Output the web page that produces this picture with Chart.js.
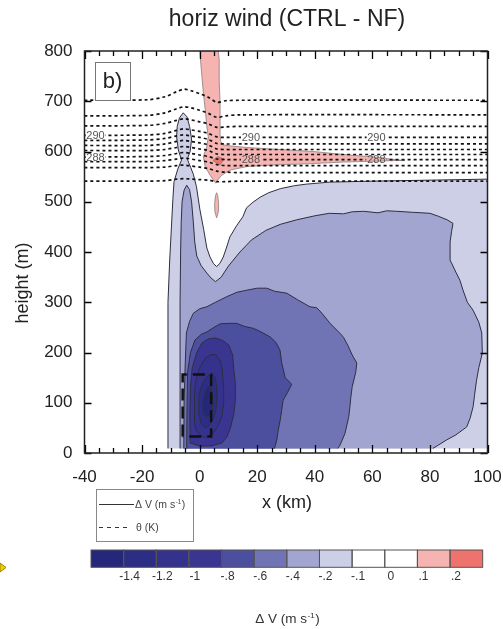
<!DOCTYPE html>
<html>
<head>
<meta charset="utf-8">
<script src="https://cdn.jsdelivr.net/npm/chart.js@4.4.0/dist/chart.umd.min.js"></script>
<style>
  html, body { margin: 0; padding: 0; background: #fff; }
  canvas { display: block; }
</style>
</head>
<body>
<canvas id="windChart" width="503" height="629"></canvas>
<script>
// Filled contours of delta V, outlines as [x km, height m]
const polyM01 = [[-11, 9], [-11, 300], [-10.4, 384], [-9.8, 450], [-9.3, 505], [-8.9, 540], [-7.6, 565], [-6.3, 583], [-7.4, 603], [-8, 629], [-7.8, 650], [-7, 667], [-5.7, 677], [-4.4, 669], [-3.5, 650], [-2.8, 625], [-3.3, 600], [-4.3, 585], [-3.1, 568], [-2.2, 555], [-1.1, 530], [0.1, 484], [1.4, 445], [2.5, 408], [3.6, 390], [4.8, 377], [5.9, 371], [7.0, 377], [8.2, 390], [9.4, 410], [10.5, 430], [12.8, 452], [15, 470], [16.3, 488], [18.5, 499], [21, 509], [24, 518], [28, 526], [33, 532], [37, 535], [45, 539], [60, 541], [80, 543], [100, 545], [100, 9]];
const polyM02 = [[-6.8, 9], [-6.8, 300], [-6.6, 404], [-6.4, 460], [-6.1, 500], [-5.4, 523], [-4.5, 533], [-3.5, 524], [-2.8, 500], [-2.2, 460], [-1.7, 420], [-1.0, 392], [0.5, 373], [2.5, 358], [4.0, 348], [5.5, 341], [7.5, 350], [10, 372], [14, 400], [18, 424], [23, 443], [28, 455], [33.7, 464], [40, 472], [45, 477], [50, 476], [53, 480], [57, 481], [62, 478], [65, 482], [68.5, 481], [74, 479], [80, 477], [83, 471], [86, 464], [88, 457], [87.5, 440], [87, 420], [87, 384], [89, 360], [90.4, 344], [91.5, 324], [93, 300], [95, 284], [97, 260], [98, 239], [98.2, 199], [97, 170], [96.2, 145], [95.5, 115], [95, 92], [94, 70], [92.8, 52], [89, 36], [85.8, 26], [83, 16], [81, 9]];
const polyM04 = [[-5.5, 9], [-5.4, 100], [-5.0, 180], [-4.6, 239], [-3.5, 262], [-2.2, 278], [0, 287], [2.5, 291], [5.5, 300], [9.4, 311], [13, 320], [16.4, 324], [20, 328], [23.3, 328], [26, 322], [30.3, 318], [34, 305], [38.3, 291], [40.7, 289], [42.5, 278], [45.3, 258], [48.8, 238], [50, 230], [51.5, 214], [53, 195], [54.6, 179], [54.2, 160], [53, 132], [52.5, 110], [52.2, 92], [51.8, 72], [50.5, 39], [48.8, 16], [48, 9]];
const polyM06 = [[-4.5, 9], [-4.4, 80], [-4.2, 160], [-3.2, 200], [-1.6, 225], [0.5, 236], [2.5, 241], [5, 250], [7.1, 257], [10, 258], [12.9, 258], [15.5, 252], [18.7, 248], [21, 242], [24.5, 231], [26.5, 220], [27.9, 205], [28.5, 180], [29.7, 150], [32, 137], [30.5, 120], [29, 105], [28.5, 85], [28, 66], [27.3, 45], [26.8, 26], [26, 9]];
const polyM08 = [[-3.3, 20], [-3.4, 80], [-3.2, 130], [-2.6, 169], [-1, 200], [0.8, 219], [3, 227], [5.5, 229], [8, 224], [10.1, 215], [11.5, 195], [11.8, 169], [12.4, 140], [12.4, 103], [11.8, 75], [10.7, 50], [9.5, 32], [7.8, 20], [4, 14], [0, 14]];
const polyM10 = [[-1.8, 60], [-1.8, 110], [-1.5, 140], [0, 170], [2, 189], [4, 196], [5.5, 196], [7, 185], [7.8, 169], [8.3, 135], [8.4, 103], [7.8, 75], [6.6, 56], [4.5, 38], [2, 30], [0, 36], [-1.2, 45]];
const polyM12 = [[-0.3, 80], [-0.2, 116], [1, 140], [3.2, 156], [4.6, 155], [5.5, 149], [6, 125], [6, 103], [5.6, 85], [4.9, 70], [3.5, 56], [2, 50], [0.5, 58]];
const polyM14 = [[1.2, 85], [1.2, 105], [2.2, 125], [3.2, 132], [4.2, 126], [4.6, 110], [4.5, 90], [3.8, 76], [2.5, 72], [1.6, 77]];
const polyM16 = [[2.6, 112], [2.7, 127], [3.1, 133], [3.6, 128], [3.6, 114], [3.1, 109]];
const polyP01 = [[0.1, 800], [0.3, 782], [1.3, 716], [2.0, 680], [2.5, 649], [3.0, 629], [2.5, 610], [1.3, 590], [1.9, 570], [3.6, 553], [4.6, 545], [5.6, 537], [6.5, 545], [7.7, 553], [10.6, 563], [16.4, 570], [25, 573], [39.4, 576], [50, 579], [62.7, 581], [68, 582], [71.3, 582], [66, 585], [62.7, 588], [50, 594], [39.5, 600], [25, 605], [16.4, 608], [11, 611], [8.2, 613], [7.3, 620], [7.1, 629], [7.1, 660], [7.1, 696], [6.8, 740], [6.8, 782], [6.5, 800]];
const polyP02 = [[4.6, 582], [6.2, 590], [8.6, 585], [7.0, 573]];
const polyP01b = [[5.9, 468], [5.3, 480], [5.2, 495], [5.5, 512], [5.9, 518], [6.3, 512], [6.6, 495], [6.5, 480]];

// colorbar
const barColors = ['#25277a', '#2c2e85', '#34328c', '#3b3592', '#4c4e9e', '#7174b4', '#a3a5d1', '#cdcfe7', '#ffffff', '#ffffff', '#f5b4b2', '#ee726d'];
const barLabels = ['-1.4', '-1.2', '-1', '-.8', '-.6', '-.4', '-.2', '-.1', '0', '.1', '.2'];

// [polygon, colour box index, closed outline]
const regions = [
  [polyM01, 7, false], [polyM02, 6, false], [polyM04, 5, false], [polyM06, 4, false],
  [polyM08, 3, true], [polyM10, 2, true], [polyM12, 1, true], [polyM14, 0, true], [polyM16, 0, true],
  [polyP01, 10, true], [polyP02, 11, true], [polyP01b, 10, true]
];

// potential temperature isolines (dashed)
const thetaX = [-40, -18, -12, -8, -5.5, -3, 0, 3, 6, 9, 14, 100];
const thetaY = [
  [702, 703, 709, 719, 724, 721, 715, 708, 698, 701, 702, 702],
  [671, 672, 677, 685, 689, 687, 682, 676, 668, 671, 673, 673],
  [651, 652, 656, 662, 665, 663, 659, 655, 648, 649, 650, 650],
  [632, 633, 636, 642, 645, 643, 640, 636, 629, 628, 628, 628],
  [622, 623, 626, 631, 633, 631, 628, 624, 616, 615, 615, 615],
  [612, 612, 615, 620, 622, 620, 617, 613, 605, 604, 604, 604],
  [602, 602, 604, 608, 610, 608, 605, 602, 595, 594, 594, 594],
  [589, 590, 592, 596, 598, 596, 593, 590, 585, 584, 584, 584],
  [580, 580, 582, 585, 587, 585, 582, 579, 574, 572, 572, 572],
  [568, 568, 569, 572, 573, 571, 569, 566, 561, 559, 558, 558],
  [541, 541, 542, 545, 546, 545, 544, 543, 540, 540, 541, 541]
];
const thetaLabels = [
  { text: '290', pts: [[-36.2, 632], [17.8, 628], [61.4, 628]] },
  { text: '288', pts: [[-36.2, 589], [17.8, 584], [61.4, 584]] }
];

// dashed box near the origin
const boxX = [-5.9, -5.9, 4.0, 4.0, -5.9];
const boxY = [33, 156, 156, 33, 33];

const FONT = '"Liberation Sans", Arial, Helvetica, sans-serif';

function tracePoly(ctx, sx, sy, pts, close) {
  ctx.beginPath();
  pts.forEach(([vx, vy], i) => {
    const px = sx.getPixelForValue(vx), py = sy.getPixelForValue(vy);
    if (i === 0) ctx.moveTo(px, py); else ctx.lineTo(px, py);
  });
  if (close) ctx.closePath();
}

function drawFills(ctx, sx, sy) {
  regions.forEach(([pts, ci, closed]) => {
    ctx.fillStyle = barColors[ci];
    tracePoly(ctx, sx, sy, pts, true);
    ctx.fill();
    ctx.strokeStyle = ci >= 10 ? '#8a7c7c' : '#2e2e40';
    ctx.lineWidth = ci >= 10 ? 0.8 : 1;
    tracePoly(ctx, sx, sy, pts, closed);
    ctx.stroke();
  });
}

// "Δ V (m s-1)" with the exponent raised
function drawUnit(ctx, x, base, size, align) {
  const main = 'Δ V (m s', sup = '-1', tail = ')';
  ctx.font = size + 'px ' + FONT;
  const w1 = ctx.measureText(main).width, w3 = ctx.measureText(tail).width;
  ctx.font = (size * 0.6) + 'px ' + FONT;
  const w2 = ctx.measureText(sup).width;
  let left = align === 'center' ? x - (w1 + w2 + w3) / 2 : x;
  ctx.textAlign = 'left';
  ctx.textBaseline = 'alphabetic';
  ctx.font = size + 'px ' + FONT;
  ctx.fillText(main, left, base);
  ctx.font = (size * 0.6) + 'px ' + FONT;
  ctx.fillText(sup, left + w1 + 0.5, base - size * 0.4);
  ctx.font = size + 'px ' + FONT;
  ctx.fillText(tail, left + w1 + w2 + 1, base);
}

const contourPlugin = {
  id: 'contours',
  beforeDatasetsDraw(chart) {
    const { ctx, chartArea: a, scales: { x, y } } = chart;
    ctx.save();
    ctx.beginPath();
    ctx.rect(a.left, a.top, a.width, a.height);
    ctx.clip();
    drawFills(ctx, x, y);
    ctx.restore();
  },
  afterDatasetsDraw(chart) {
    const { ctx, chartArea: a, scales: { x, y } } = chart;
    // isoline labels: clear the dashes under them, then write
    thetaLabels.forEach(lab => {
      lab.pts.forEach(([vx, vy]) => {
        const px = x.getPixelForValue(vx), py = y.getPixelForValue(vy);
        ctx.save();
        ctx.beginPath();
        ctx.rect(px - 10, py - 4, 20, 8);
        ctx.clip();
        ctx.fillStyle = '#fff';
        ctx.fillRect(px - 10, py - 4, 20, 8);
        drawFills(ctx, x, y);
        ctx.restore();
        ctx.fillStyle = '#555';
        ctx.font = '11px ' + FONT;
        ctx.textAlign = 'center';
        ctx.textBaseline = 'middle';
        ctx.fillText(lab.text, px, py + 0.5);
      });
    });

    // panel tag
    ctx.fillStyle = '#fff';
    ctx.fillRect(95, 62, 35, 38);
    ctx.strokeStyle = '#777';
    ctx.lineWidth = 1;
    ctx.strokeRect(95.5, 62.5, 35, 38);
    ctx.fillStyle = '#222';
    ctx.font = '22px ' + FONT;
    ctx.textAlign = 'center';
    ctx.textBaseline = 'middle';
    ctx.fillText('b)', 112.5, 82);

    // inward tick marks
    ctx.strokeStyle = '#000';
    ctx.lineWidth = 1.3;
    ctx.beginPath();
    for (let v = -40; v <= 100; v += 5) {
      const px = Math.round(x.getPixelForValue(v)) + 0.5;
      const len = v % 20 === 0 ? 8 : 5;
      ctx.moveTo(px, a.bottom); ctx.lineTo(px, a.bottom - len);
      ctx.moveTo(px, a.top); ctx.lineTo(px, a.top + len);
    }
    for (let v = 0; v <= 800; v += 100) {
      const py = Math.round(y.getPixelForValue(v)) + 0.5;
      ctx.moveTo(a.left, py); ctx.lineTo(a.left + 7, py);
      ctx.moveTo(a.right, py); ctx.lineTo(a.right - 7, py);
    }
    ctx.stroke();
    ctx.strokeStyle = '#222';
    ctx.lineWidth = 1.5;
    ctx.strokeRect(a.left, a.top, a.width, a.height);
  },
  afterDraw(chart) {
    const { ctx } = chart;
    ctx.save();
    ctx.fillStyle = '#222';
    ctx.textAlign = 'center';
    ctx.textBaseline = 'alphabetic';
    ctx.font = '23px ' + FONT;
    ctx.fillText('horiz wind (CTRL - NF)', 287, 26);
    ctx.font = '18px ' + FONT;
    ctx.fillText('x (km)', 287, 508);
    ctx.save();
    ctx.translate(28, 283);
    ctx.rotate(-Math.PI / 2);
    ctx.fillText('height (m)', 0, 0);
    ctx.restore();

    // line-style key
    ctx.strokeStyle = '#888';
    ctx.lineWidth = 1;
    ctx.strokeRect(96.5, 489.5, 97, 52);
    ctx.strokeStyle = '#333';
    ctx.beginPath();
    ctx.moveTo(99, 504.5); ctx.lineTo(134, 504.5);
    ctx.stroke();
    ctx.setLineDash([4, 4]);
    ctx.beginPath();
    ctx.moveTo(99, 527.5); ctx.lineTo(131, 527.5);
    ctx.stroke();
    ctx.setLineDash([]);
    ctx.fillStyle = '#444';
    drawUnit(ctx, 135, 508, 10.5, 'left');
    ctx.font = '10.5px ' + FONT;
    ctx.textAlign = 'left';
    ctx.fillText('θ (K)', 136, 531);

    // colour bar
    const x0 = 91, bw = 32.64, by = 550, bh = 17.3;
    barColors.forEach((c, i) => {
      ctx.fillStyle = c;
      ctx.fillRect(x0 + i * bw, by, bw, bh);
    });
    ctx.strokeStyle = '#555';
    ctx.lineWidth = 1;
    barColors.forEach((c, i) => {
      ctx.strokeRect(x0 + i * bw, by, bw, bh);
    });
    ctx.fillStyle = '#333';
    ctx.font = '12px ' + FONT;
    ctx.textAlign = 'center';
    barLabels.forEach((t, i) => {
      ctx.fillText(t, x0 + (i + 1) * bw + 6, 580);
    });
    ctx.fillStyle = '#333';
    drawUnit(ctx, 287, 623, 13.5, 'center');

    // stray marker at the left edge of the scan
    ctx.fillStyle = '#f2d000';
    ctx.strokeStyle = '#9a8200';
    ctx.beginPath();
    ctx.moveTo(0, 563); ctx.lineTo(6, 567.5); ctx.lineTo(0, 572);
    ctx.closePath();
    ctx.fill();
    ctx.stroke();
    ctx.restore();
  }
};

const thetaSets = thetaY.map(ys => ({
  data: thetaX.map((vx, i) => ({ x: vx, y: ys[i] })),
  borderColor: '#111',
  borderWidth: 1.7,
  borderDash: [3, 3],
  pointRadius: 0,
  tension: 0.3,
  fill: false
}));

const boxSet = {
  data: boxX.map((vx, i) => ({ x: vx, y: boxY[i] })),
  borderColor: '#111',
  borderWidth: 2.5,
  borderDash: [12, 6],
  pointRadius: 0,
  tension: 0,
  fill: false
};

const ctx = document.getElementById('windChart').getContext('2d');
new Chart(ctx, {
  type: 'line',
  data: { datasets: [...thetaSets, boxSet] },
  options: {
    responsive: false,
    animation: false,
    layout: { padding: { top: 51, right: 15.5, left: 0, bottom: 0 } },
    plugins: {
      legend: { display: false },
      tooltip: { enabled: false },
      title: { display: false }
    },
    scales: {
      x: {
        type: 'linear', min: -40, max: 100,
        ticks: { stepSize: 20, color: '#222', font: { family: FONT, size: 17 }, padding: 14, maxRotation: 0 },
        grid: { display: false, drawTicks: false },
        border: { display: false },
        afterFit: s => { s.height = 176; s.paddingLeft = 0; s.paddingRight = 0; }
      },
      y: {
        min: 0, max: 800,
        ticks: { stepSize: 100, color: '#222', font: { family: FONT, size: 17 }, padding: 12 },
        grid: { display: false, drawTicks: false },
        border: { display: false },
        afterFit: s => { s.width = 84.5; s.paddingTop = 0; s.paddingBottom = 0; }
      }
    }
  },
  plugins: [contourPlugin]
});
</script>
</body>
</html>
